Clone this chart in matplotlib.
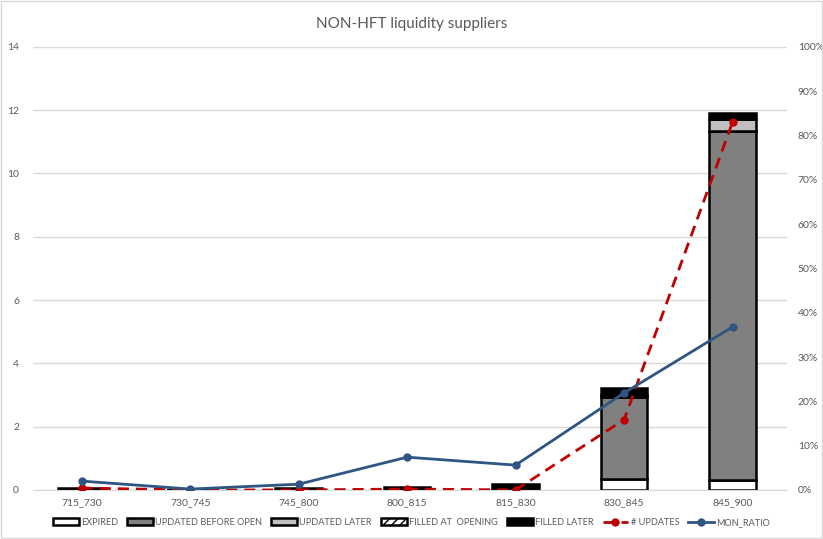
import numpy as np
import matplotlib.pyplot as plt
from matplotlib.ticker import PercentFormatter

plt.rcParams['font.family'] = ['Lato', 'DejaVu Sans']

slots = ["715_730", "730_745", "745_800", "800_815", "815_830", "830_845", "845_900"]
expired = [0.0, 0.0, 0.0, 0.0, 0.0, 0.35, 0.32]
upd_before_open = [0.0, 0.0, 0.0, 0.0, 0.0, 2.58, 11.01]
upd_later = [0.0, 0.0, 0.0, 0.0, 0.0, 0.07, 0.40]
filled_opening = [0.0, 0.0, 0.0, 0.0, 0.0, 0.0, 0.0]
filled_later = [0.05, 0.01, 0.06, 0.08, 0.20, 0.21, 0.17]
n_updates = [0.06, 0.0, 0.0, 0.03, 0.0, 2.22, 11.62]
mon_ratio = [0.020, 0.002, 0.013, 0.074, 0.056, 0.219, 0.368]

grid_c = "#d9d9d9"
text_c = "#595959"

fig = plt.figure(figsize=(8.23, 5.39), dpi=100)
ax = fig.add_axes([0.040, 0.091, 0.916, 0.822])
ax2 = ax.twinx()

x = np.arange(len(slots))
w = 0.43
bottom = np.zeros(len(slots))
layers = [
    (expired, "white", None, "EXPIRED"),
    (upd_before_open, "#808080", None, "UPDATED BEFORE OPEN"),
    (upd_later, "#bfbfbf", None, "UPDATED LATER"),
    (filled_opening, "white", "////", "FILLED AT  OPENING"),
    (filled_later, "black", None, "FILLED LATER"),
]
for vals, col, hatch, lab in layers:
    ax.bar(x, vals, w, bottom=bottom, color=col, edgecolor="black",
           linewidth=1.8, hatch=hatch, label=lab, zorder=2)
    bottom += np.array(vals)

ax.plot(x, n_updates, color="#c00000", lw=2, ls=(0, (4, 2.5)), marker="o",
        ms=5, label="# UPDATES", zorder=4)
ax2.plot(x, mon_ratio, color="#2f5583", lw=2, marker="o", ms=5,
         label="MON_RATIO", zorder=4)

ax.set_ylim(0, 14)
ax.set_yticks(range(0, 15, 2))
ax2.set_ylim(0, 1)
ax2.set_yticks(np.linspace(0, 1, 11))
ax2.yaxis.set_major_formatter(PercentFormatter(1.0, decimals=0))
ax.set_xlim(-0.45, len(slots) - 0.5)
ax.set_xticks(x)
ax.set_xticklabels(slots)

ax.grid(axis="y", color=grid_c, lw=1, zorder=0)
ax.set_axisbelow(True)
for a in (ax, ax2):
    for s in a.spines.values():
        s.set_visible(False)
    a.tick_params(length=0, labelsize=7.5, colors=text_c)
ax.spines["bottom"].set_visible(True)
ax.spines["bottom"].set_color(grid_c)
ax.tick_params(axis="y", pad=10)
ax.tick_params(axis="x", pad=6)
ax2.tick_params(axis="y", pad=8)

fig.text(0.5, 0.955, "NON-HFT liquidity suppliers", ha="center", va="center",
         fontsize=11, color=text_c)

h1, l1 = ax.get_legend_handles_labels()
h2, l2 = ax2.get_legend_handles_labels()
order = [1, 2, 3, 4, 5, 0]
h1 = [h1[i] for i in order]
l1 = [l1[i] for i in order]
leg = fig.legend(h1 + h2, l1 + l2, loc="center", bbox_to_anchor=(0.5, 0.031),
                 ncol=7, frameon=False, fontsize=6.6, handlelength=2.8,
                 handletextpad=0.25, columnspacing=1.0)
for t in leg.get_texts():
    t.set_color(text_c)

fig.patches.append(plt.Rectangle((0.001, 0.001), 0.998, 0.998, transform=fig.transFigure,
                                 fill=False, edgecolor=grid_c, lw=1))
fig.savefig("out.png", dpi=100)
